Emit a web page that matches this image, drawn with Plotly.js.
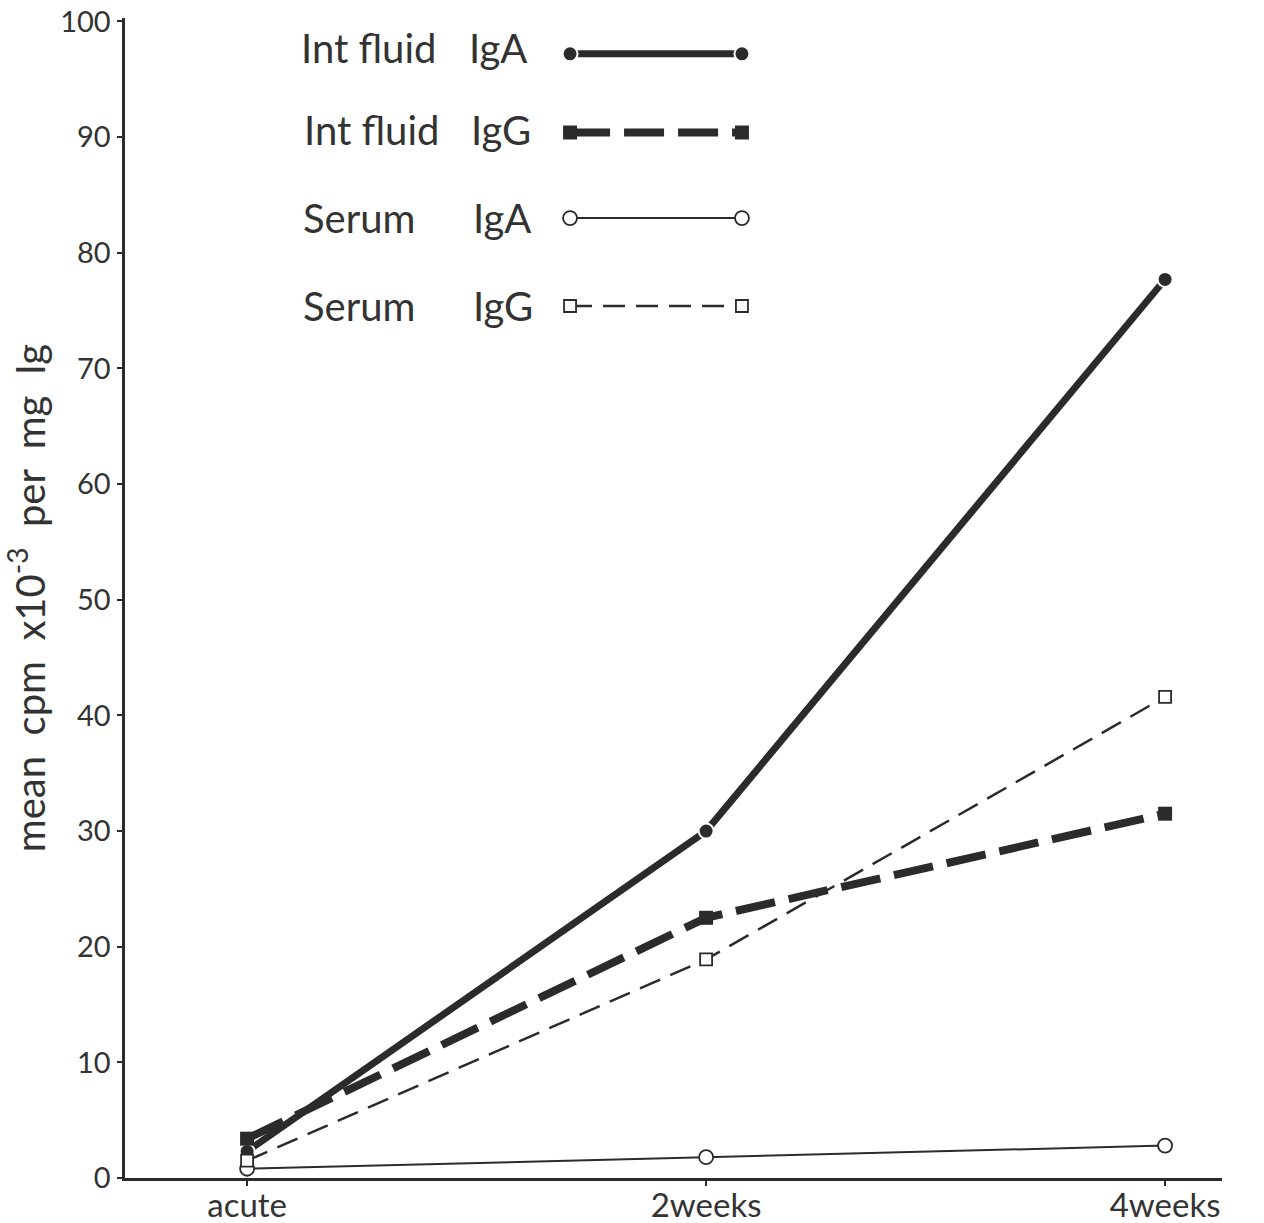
<!DOCTYPE html>
<html>
<head>
<meta charset="utf-8">
<script src="https://cdn.plot.ly/plotly-3.0.1.min.js"></script>
<style>html,body{margin:0;padding:0;background:#fff;}#chart{width:1264px;height:1223px;}</style>
</head>
<body>
<div id="chart"></div>
<script>
// ---- data ----
const categories = ["acute", "2weeks", "4weeks"];
const intFluidIgA = [2.3, 30.0, 77.7];
const intFluidIgG = [3.4, 22.5, 31.5];
const serumIgA = [0.8, 1.8, 2.8];
const serumIgG = [1.5, 18.9, 41.6];
const seriesNames = ["Int fluid IgA", "Int fluid IgG", "Serum IgA", "Serum IgG"];
const yTicks = [0, 10, 20, 30, 40, 50, 60, 70, 80, 90, 100];

// ---- styles ----
const INK = "#2b2b2b";
const FONT = "Lato, 'Noto Sans', sans-serif";
const styles = [
  {line: {color: INK, width: 7}, marker: {symbol: "circle", size: 15, color: INK, line: {color: "#fff", width: 2}}},
  {line: {color: INK, width: 8, dash: "40px,14px"}, marker: {symbol: "square", size: 14, color: INK, line: {color: INK, width: 0}}},
  {line: {color: INK, width: 2}, marker: {symbol: "circle", size: 14, color: "#fff", line: {color: INK, width: 1.8}}},
  {line: {color: INK, width: 2.5, dash: "22px,11px"}, marker: {symbol: "square", size: 12, color: "#fff", line: {color: INK, width: 1.8}}}
];
const seriesData = [intFluidIgA, intFluidIgG, serumIgA, serumIgG];

const traces = seriesData.map((vals, i) => ({
  x: categories, y: vals, type: "scatter", mode: "lines+markers",
  name: seriesNames[i], line: styles[i].line, marker: styles[i].marker,
  showlegend: false, cliponaxis: false, hoverinfo: "x+y+name"
}));

// ---- custom legend (text left, sample right) ----
const legendRowsY = [97.2, 90.4, 83.0, 75.4];
legendRowsY.forEach((ly, i) => {
  traces.push({
    x: [0, 1], y: [ly, ly], xaxis: "x2", yaxis: "y", type: "scatter", mode: "lines+markers",
    line: styles[i].line, marker: styles[i].marker, showlegend: false, cliponaxis: false, hoverinfo: "skip"
  });
});
const legendLeft = [["Int fluid", 299], ["Int fluid", 302], ["Serum", 301], ["Serum", 301]];
const legendRight = [["IgA", 467], ["IgG", 469], ["IgA", 471], ["IgG", 471]];
const legendPixY = [48, 130, 218, 306];
const annotations = [];
for (let i = 0; i < 4; i++) {
  annotations.push({xref: "paper", yref: "paper", x: (legendLeft[i][1] - 125) / 1097, y: (1178 - legendPixY[i]) / 1160,
    xanchor: "left", yanchor: "middle", showarrow: false, text: legendLeft[i][0], font: {family: FONT, size: 40, color: "#333"}});
  annotations.push({xref: "paper", yref: "paper", x: (legendRight[i][1] - 125) / 1097, y: (1178 - legendPixY[i]) / 1160,
    xanchor: "left", yanchor: "middle", showarrow: false, text: legendRight[i][0], font: {family: FONT, size: 40, color: "#333"}});
}

const layout = {
  width: 1264, height: 1223,
  margin: {l: 125, r: 42, t: 18, b: 45},
  paper_bgcolor: "#fff", plot_bgcolor: "rgba(0,0,0,0)",
  font: {family: FONT, color: "#333"},
  showlegend: false,
  xaxis: {
    type: "category", range: [-0.266, 2.124],
    showline: true, linecolor: INK, linewidth: 3, showgrid: false, zeroline: false,
    ticks: "outside", ticklen: 5, tickwidth: 2, tickcolor: INK,
    tickfont: {family: FONT, size: 33, color: "#333"}, ticklabelstandoff: -9
  },
  xaxis2: {domain: [0.4057, 0.5624], range: [0, 1], anchor: "y", visible: false, fixedrange: true},
  yaxis: {
    range: [0, 100.3], tickvals: yTicks, ticktext: yTicks.map(String),
    showline: true, linecolor: INK, linewidth: 3.5, showgrid: false, zeroline: false,
    ticks: "outside", ticklen: 5, tickwidth: 2, tickcolor: INK,
    tickfont: {family: FONT, size: 29, color: "#333"},
    title: {text: "mean  cpm  x10<sup>-3</sup>  per  mg  Ig", font: {family: FONT, size: 40, color: "#333"}, standoff: 10}
  },
  annotations: annotations
};

Plotly.newPlot("chart", traces, layout, {displayModeBar: false, staticPlot: true});
</script>
</body>
</html>
